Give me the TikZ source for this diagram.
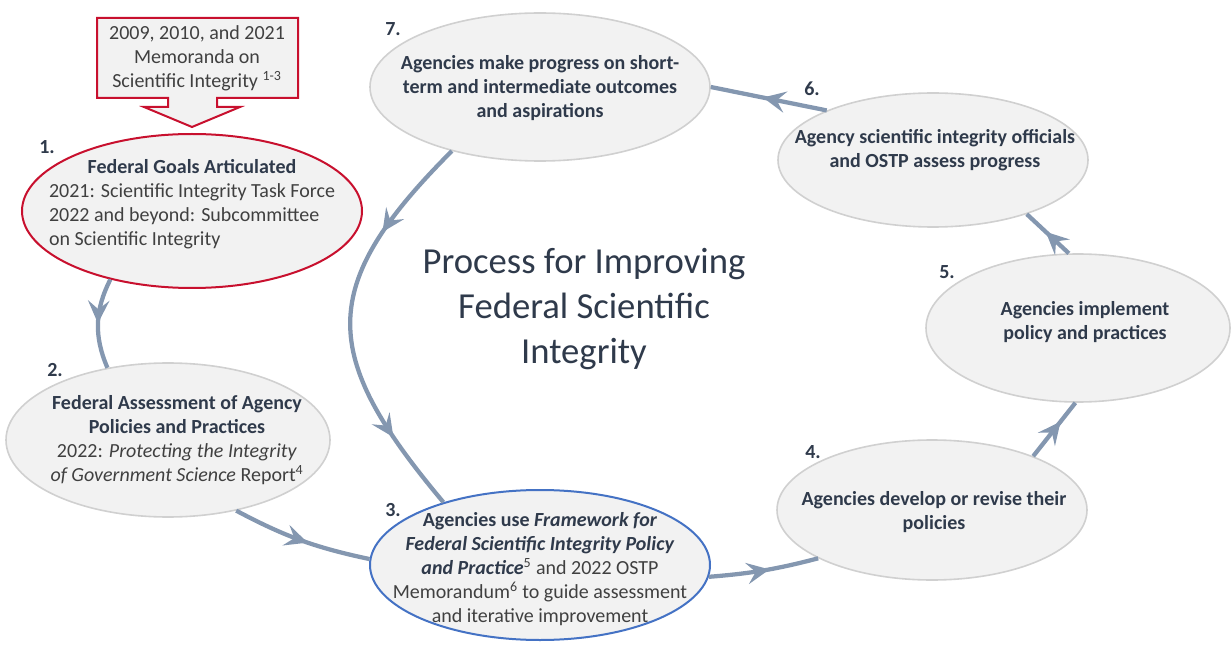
\documentclass[tikz,border=0pt]{standalone}
\usepackage{fontspec}
\setmainfont{Carlito}
\usetikzlibrary{arrows.meta,shapes.geometric,decorations.markings}

\definecolor{stagefill}{HTML}{F2F2F2}
\definecolor{stageline}{HTML}{D0D0D0}
\definecolor{goalred}{HTML}{C8102E}
\definecolor{useblue}{HTML}{4472C4}
\definecolor{flowgray}{HTML}{8497B0}
\definecolor{inkdark}{HTML}{2F3A4B}
\definecolor{inkgray}{HTML}{404040}

\newcommand{\stagehead}[1]{\textbf{\color{inkdark}#1}}

\begin{document}
\begin{tikzpicture}[x=0.75pt,y=-0.75pt,
  stage/.style={ellipse,draw=stageline,line width=1.2pt,fill=stagefill,inner sep=0pt},
  txt/.style={align=center,text=inkgray,font=\fontsize{15}{18}\selectfont},
  num/.style={text=inkdark,font=\fontsize{15}{18}\selectfont\bfseries},
  flow/.style={draw=flowgray,color=flowgray,line width=3.2pt},
  flowmark/.style={postaction={decorate,decoration={markings,
    mark=at position #1 with {\arrow{Stealth[length=17pt,width=16pt,inset=6.5pt]}}}}}]
\useasboundingbox (0,0) rectangle (1231,645);

% memoranda callout above stage 1
\draw[draw=goalred,line width=1.5pt,fill=stagefill] (97,18) -- (298,18) -- (298,98)
  -- (217,98) -- (217,107) -- (240,107) -- (192,127) -- (144,107) -- (168,107)
  -- (168,98) -- (97,98) -- cycle;
\node[txt] (memo) at (197,58) {2009, 2010, and 2021\\Memoranda on\\Scientific Integrity \textsuperscript{1-3}};

% the seven stages
\node[stage,draw=goalred,line width=1.5pt,minimum width=255pt,minimum height=115.5pt] (e1) at (192,211) {};
\node[stage,minimum width=243pt,minimum height=115.5pt] (e2) at (168,440) {};
\node[stage,draw=useblue,line width=1.5pt,minimum width=255pt,minimum height=112.5pt] (e3) at (540,565) {};
\node[stage,minimum width=232.5pt,minimum height=105pt] (e4) at (932,510) {};
\node[stage,minimum width=228pt,minimum height=111pt] (e5) at (1078,328) {};
\node[stage,minimum width=232.5pt,minimum height=100.5pt] (e6) at (933,160) {};
\node[stage,minimum width=255pt,minimum height=111pt] (e7) at (540,87) {};

\node[txt] (t1) at (192,205) {\begin{tabular}{@{}l@{}}
  \multicolumn{1}{@{}c@{}}{\stagehead{Federal Goals Articulated}}\\
  2021: Scientific Integrity Task Force\\
  2022 and beyond: Subcommittee\\
  on Scientific Integrity\end{tabular}};
\node[txt] (t2) at (177,440) {\stagehead{Federal Assessment of Agency}\\\stagehead{Policies and Practices}\\
  2022: \textit{Protecting the Integrity}\\\textit{of Government Science} Report\textsuperscript{4}};
\node[txt] (t3) at (540,569) {\stagehead{Agencies use \textit{Framework for}}\\
  \stagehead{\textit{Federal Scientific Integrity Policy}}\\
  \stagehead{\textit{and Practice}}\textsuperscript{5} and 2022 OSTP\\
  Memorandum\textsuperscript{6} to guide assessment\\and iterative improvement};
\node[txt] (t4) at (934,512) {\stagehead{Agencies develop or revise their}\\\stagehead{policies}};
\node[txt] (t5) at (1085,322) {\stagehead{Agencies implement}\\\stagehead{policy and practices}};
\node[txt] (t6) at (935,150) {\stagehead{Agency scientific integrity officials}\\\stagehead{and OSTP assess progress}};
\node[txt] (t7) at (540,88) {\stagehead{Agencies make progress on short-}\\\stagehead{term and intermediate outcomes}\\\stagehead{and aspirations}};

\foreach \n/\x/\y in {1/47/147,2/55/370,3/393/510,4/813/452,5/947/272,6/812/89,7/393/29}
  \node[num] (n\n) at (\x,\y) {\n.};

\node[align=center,text=inkdark,font=\fontsize{27.5}{34}\selectfont] (title) at (584,309)
  {Process for Improving\\Federal Scientific\\Integrity};

% cycle connectors
\draw[flow,flowmark=0.5] (e1.220) to[bend right=25] (e2.130);
\draw[flow,flowmark=0.55] (e2.-46) to[bend right=8] (e3.178);
\draw[flow,flowmark=0.55] (e3.-4) to[bend right=5] (e4.203);
\draw[flow,flowmark=0.65] (e4.28) -- (e5.-92);
\draw[flow,flowmark=0.55] (e5.97) -- (e6.-30);
\draw[flow,flowmark=0.55] (e6.155) -- (e7.0);
\draw[flow,flowmark=0.26,flowmark=0.8] (e7.216) to[out=225,in=130,looseness=1.4] (e3.147);
\end{tikzpicture}
\end{document}
